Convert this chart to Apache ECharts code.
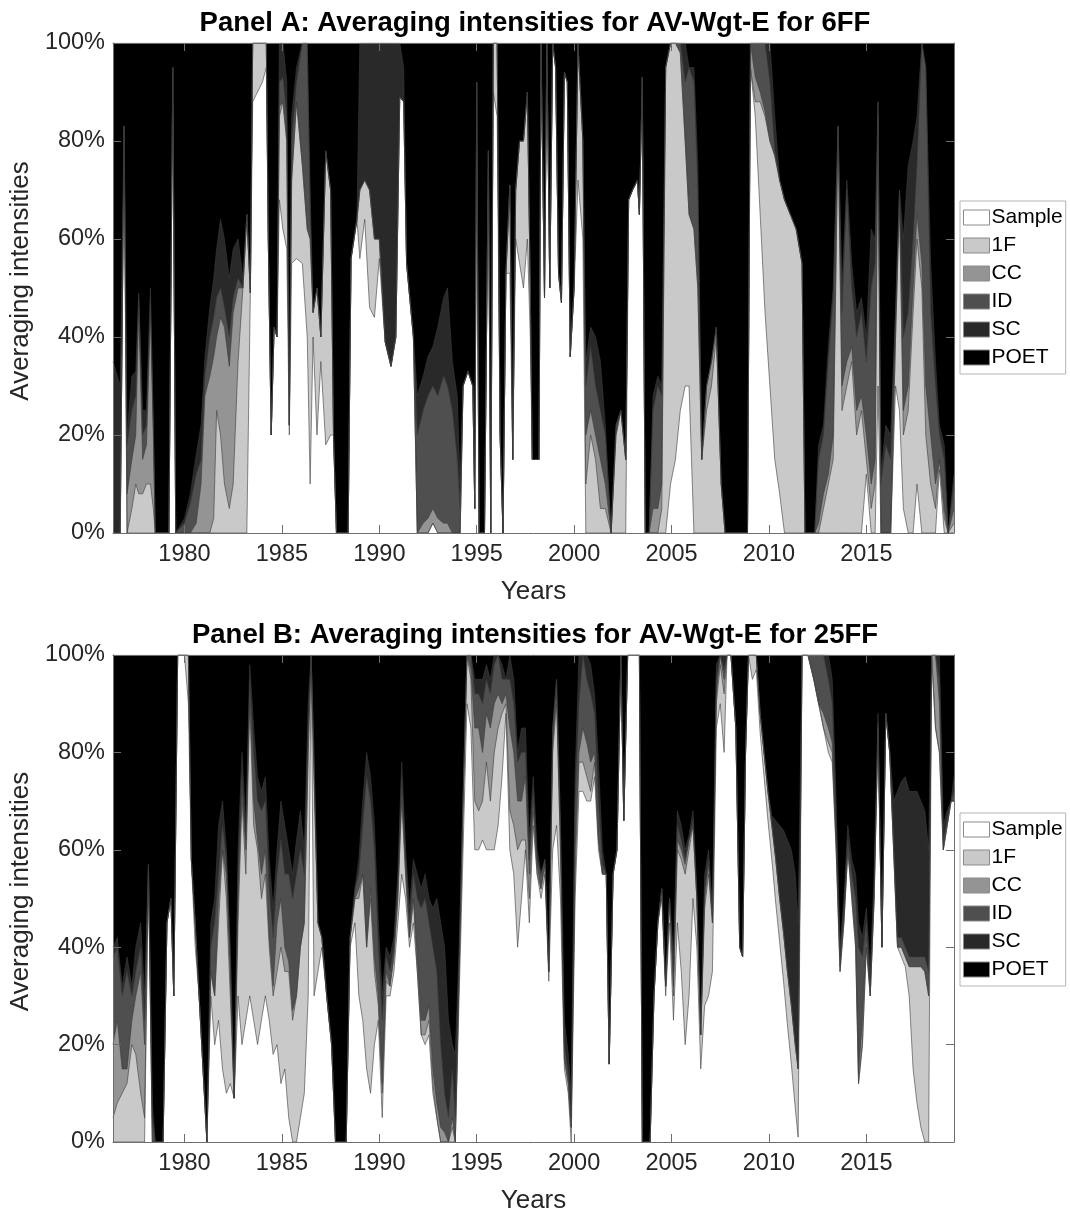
<!DOCTYPE html>
<html>
<head>
<meta charset="utf-8">
<script src="https://cdn.jsdelivr.net/npm/echarts@6/dist/echarts.min.js"></script>
<style>
  html, body { margin: 0; padding: 0; background: #ffffff; }
  #chart { width: 1070px; height: 1215px; }
</style>
</head>
<body>
<div id="chart"></div>
<script>
// Averaging intensities (shares in %) of the six estimators, stacked to 100%.
const seriesNames = ['Sample', '1F', 'CC', 'ID', 'SC', 'POET'];
const tickYears = [1980, 1985, 1990, 1995, 2000, 2005, 2010, 2015];
const yTickLabels = ['0%', '20%', '40%', '60%', '80%', '100%'];
const panelTitles = [
  'Panel A: Averaging intensities for AV-Wgt-E for 6FF',
  'Panel B: Averaging intensities for AV-Wgt-E for 25FF'
];

// ---- Panel A (6FF) ----
const yearsA = [
  1976.33,1976.7,1976.9,1977.05,1977.3,1977.5,1977.65,1977.85,1978.05,1978.25,
  1978.4,1978.5,1979.2,1979.4,1979.55,1980.0,1980.3,1980.6,1980.85,1981.05,
  1981.3,1981.5,1981.65,1981.85,1982.05,1982.3,1982.5,1982.75,1983.0,1983.2,
  1983.38,1983.5,1983.75,1984.0,1984.2,1984.3,1984.45,1984.6,1984.75,1984.87,
  1985.05,1985.25,1985.38,1985.5,1985.75,1986.05,1986.3,1986.45,1986.6,1986.8,
  1987.0,1987.25,1987.5,1987.65,1987.8,1988.4,1988.55,1988.85,1989.0,1989.25,
  1989.5,1989.75,1990.0,1990.3,1990.6,1990.85,1991.05,1991.25,1991.4,1991.75,
  1991.95,1992.25,1992.5,1992.75,1993.0,1993.3,1993.5,1993.75,1994.0,1994.15,
  1994.3,1994.55,1994.8,1994.9,1995.0,1995.12,1995.4,1995.6,1995.72,1995.85,
  1996.05,1996.2,1996.35,1996.5,1996.7,1996.85,1997.0,1997.2,1997.4,1997.6,
  1997.75,1997.85,1998.2,1998.3,1998.35,1998.48,1998.6,1998.75,1998.9,1999.05,
  1999.2,1999.35,1999.5,1999.65,1999.8,2000.0,2000.2,2000.45,2000.6,2000.85,
  2001.1,2001.35,2001.6,2001.9,2002.15,2002.4,2002.65,2002.8,2003.0,2003.25,
  2003.35,2003.5,2003.65,2003.85,2004.05,2004.3,2004.5,2004.7,2004.95,2005.2,
  2005.45,2005.7,2005.9,2006.15,2006.35,2006.55,2006.8,2007.05,2007.3,2007.55,
  2007.75,2008.9,2009.05,2009.3,2009.55,2009.8,2010.05,2010.3,2010.55,2010.8,
  2011.1,2011.4,2011.7,2011.85,2012.35,2012.55,2012.8,2013.05,2013.3,2013.55,
  2013.75,2014.0,2014.25,2014.5,2014.75,2015.0,2015.25,2015.45,2015.6,2015.75,
  2016.0,2016.25,2016.5,2016.7,2016.9,2017.15,2017.4,2017.6,2017.85,2018.05,
  2018.3,2018.55,2018.75,2019.0,2019.2,2019.5
];
const sampleA = [
  0,0,83,0,0,0,0,0,0,0,
  0,0,0,95,0,0,0,0,0,0,
  0,0,0,0,0,0,0,0,0,0,
  49,88,90,92,95,60,20,42,40,68,
  62,58,20,55,56,55,40,10,40,20,
  35,18,20,20,0,0,56,64,56,64,
  46,44,56,39,34,40,89,88,55,40,
  0,0,0,2,0,0,0,0,0,0,
  30,33,30,5,88,0,0,78,0,90,
  85,20,0,53,53,15,60,55,50,60,
  40,15,15,100,100,48,100,50,100,95,
  53,47,94,92,36,50,72,60,0,0,
  0,0,0,0,0,0,0,68,70,72,
  65,93,0,0,0,0,0,0,10,15,
  25,30,30,0,0,0,0,0,0,0,
  0,0,95,85,65,45,30,15,8,0,
  0,0,0,0,0,0,0,0,0,0,
  0,0,0,0,0,12,0,0,30,0,
  0,0,30,25,5,0,0,10,0,0,
  0,0,13,0,0,0
];
const oneFA = [
  0,0,0,0,5,10,8,8,10,10,
  5,0,0,0,0,0,0,0,0,0,
  0,3,25,20,10,5,10,35,50,65,
  0,12,10,8,5,0,0,0,0,17,
  26,22,2,17,32,20,22,50,5,30,
  5,60,50,0,0,0,0,0,14,8,
  24,16,4,0,0,0,0,0,0,0,
  0,0,0,0,0,0,0,0,0,0,
  0,0,0,0,4,0,0,0,0,10,
  15,0,0,0,18,0,10,25,30,30,
  10,0,0,0,0,0,0,0,0,0,
  0,0,0,0,0,0,28,20,10,20,
  15,5,5,0,20,25,15,0,0,0,
  0,0,0,0,0,0,5,95,90,85,
  73,50,35,62,50,15,25,30,40,10,
  0,0,0,3,23,40,50,62,64,68,
  65,62,55,0,0,0,5,10,15,83,
  25,30,35,20,25,3,5,10,55,0,
  0,0,10,43,15,25,45,50,50,20,
  10,5,2,3,0,2
];
const ccA = [
  0,0,0,8,10,10,38,7,8,35,
  15,0,0,0,0,0,0,2,10,28,
  32,33,15,24,32,29,35,15,0,0,
  0,0,0,0,0,0,0,0,0,2,
  0,0,0,0,0,0,0,0,0,0,
  0,0,0,0,0,0,0,0,0,0,
  0,0,0,0,0,0,0,0,0,0,
  0,2,3,3,3,2,2,0,0,0,
  0,0,0,0,0,0,0,0,0,0,
  0,0,0,0,0,0,0,0,0,0,
  0,0,0,0,0,0,0,0,0,0,
  0,0,0,0,0,0,0,0,10,5,
  5,10,5,0,0,0,0,0,0,0,
  0,0,0,0,5,5,5,0,0,0,
  0,0,0,0,0,0,5,5,2,0,
  0,0,5,5,2,1,0,0,0,0,
  0,0,0,0,0,2,3,2,5,0,
  5,5,3,5,3,5,5,5,0,0,
  0,0,0,0,5,5,5,5,5,10,
  10,5,0,2,0,3
];
const idA = [
  0,0,0,10,10,8,2,5,4,3,
  2,0,0,0,0,2,6,10,5,4,
  8,8,8,6,4,6,3,2,0,0,
  0,0,0,0,0,0,0,0,0,5,
  5,5,0,8,4,25,38,5,0,0,
  0,0,0,0,0,0,0,0,0,0,
  0,0,0,0,0,0,0,0,0,0,
  20,23,25,25,25,30,28,25,15,5,
  0,0,0,0,0,0,0,0,0,0,
  0,0,0,0,0,0,0,0,0,0,
  0,0,0,0,0,0,0,0,0,0,
  0,0,0,0,0,0,0,0,10,13,
  10,10,10,0,2,0,0,0,0,0,
  0,0,0,0,20,25,18,0,0,0,
  2,12,30,30,20,0,0,0,0,0,
  0,0,0,7,10,14,12,1,0,0,
  0,0,0,0,0,13,12,23,28,0,
  15,35,12,15,17,15,40,40,3,10,
  18,15,5,2,15,15,10,10,45,65,
  25,20,5,10,0,5
];
const scA = [
  35,30,0,2,7,5,1,5,3,2,
  0,0,0,0,0,1,2,4,7,4,
  6,8,10,14,14,12,10,8,2,0,
  0,0,0,0,0,0,0,0,0,8,
  7,7,0,5,3,0,0,5,0,0,
  0,0,0,0,0,0,0,0,30,28,
  30,40,40,61,66,60,11,7,0,0,
  8,7,8,8,14,16,20,10,13,5,
  0,0,0,0,0,0,0,0,0,0,
  0,0,0,0,0,0,0,0,0,0,
  0,0,0,0,0,0,0,0,0,0,
  0,0,0,0,0,0,0,0,5,4,
  10,10,2,0,0,0,0,0,0,0,
  0,0,0,0,3,2,2,0,0,0,
  0,8,0,3,5,0,0,0,0,0,
  0,0,0,0,0,0,8,7,0,0,
  0,0,0,0,0,3,2,3,2,0,
  5,2,5,5,3,5,12,5,0,2,
  4,5,0,0,20,30,20,10,0,0,
  10,5,2,3,0,2
];
const poetA = [
  65,70,17,80,68,67,51,75,75,50,
  78,100,100,5,100,97,92,84,78,64,
  54,48,42,36,40,48,42,40,48,35,
  51,0,0,0,0,40,80,58,60,0,
  0,8,78,15,5,0,0,30,55,50,
  60,22,30,80,100,100,44,36,0,0,
  0,0,0,0,0,0,0,5,45,60,
  72,68,64,62,58,52,50,65,72,90,
  70,67,70,95,8,100,100,22,100,0,
  0,80,100,47,29,85,30,20,20,10,
  50,85,85,0,0,52,0,50,0,5,
  47,53,6,8,64,50,0,20,65,58,
  60,65,78,100,78,75,85,32,30,28,
  35,7,100,100,72,68,70,5,0,0,
  0,0,5,5,25,85,70,65,58,90,
  100,100,0,0,0,0,0,15,28,32,
  35,38,45,100,100,82,78,62,50,17,
  50,28,45,55,52,60,38,40,12,88,
  78,80,55,30,40,25,20,15,0,5,
  45,65,78,82,100,88
];

// ---- Panel B (25FF) ----
const yearsB = [
  1976.33,1976.55,1976.8,1977.05,1977.3,1977.5,1977.75,1977.95,1978.15,1978.35,
  1978.5,1978.9,1979.1,1979.3,1979.45,1979.65,1980.0,1980.2,1980.35,1980.55,
  1980.75,1980.95,1981.15,1981.35,1981.55,1981.75,1981.95,1982.15,1982.35,1982.55,
  1982.75,1982.95,1983.15,1983.35,1983.55,1983.75,1983.95,1984.15,1984.35,1984.55,
  1984.75,1984.95,1985.15,1985.35,1985.55,1985.75,1985.95,1986.15,1986.35,1986.5,
  1986.65,1986.85,1987.05,1987.3,1987.55,1987.75,1988.3,1988.5,1988.75,1988.95,
  1989.15,1989.35,1989.55,1989.75,1989.95,1990.15,1990.35,1990.55,1990.75,1990.95,
  1991.15,1991.35,1991.55,1991.75,1991.95,1992.15,1992.35,1992.55,1992.75,1992.95,
  1993.15,1993.35,1993.55,1993.75,1993.9,1994.1,1994.3,1994.5,1994.7,1994.9,
  1995.1,1995.3,1995.5,1995.7,1995.9,1996.1,1996.3,1996.5,1996.7,1996.9,
  1997.1,1997.3,1997.5,1997.7,1997.9,1998.1,1998.3,1998.5,1998.7,1998.9,
  1999.1,1999.3,1999.5,1999.7,1999.85,2000.05,2000.25,2000.45,2000.65,2000.85,
  2001.05,2001.25,2001.45,2001.65,2001.8,2002.0,2002.2,2002.4,2002.55,2002.75,
  2003.0,2003.35,2003.5,2003.9,2004.1,2004.3,2004.5,2004.7,2004.9,2005.1,
  2005.3,2005.5,2005.7,2005.9,2006.1,2006.3,2006.5,2006.7,2006.9,2007.1,
  2007.3,2007.5,2007.7,2007.85,2008.05,2008.3,2008.5,2008.65,2008.8,2008.95,
  2009.15,2009.35,2009.55,2009.75,2009.95,2010.15,2010.35,2010.55,2010.75,2010.95,
  2011.15,2011.35,2011.5,2011.7,2012.0,2012.3,2012.55,2012.8,2013.05,2013.25,
  2013.45,2013.65,2013.85,2014.05,2014.25,2014.45,2014.6,2014.8,2015.0,2015.2,
  2015.4,2015.6,2015.8,2016.0,2016.2,2016.4,2016.6,2016.8,2017.0,2017.2,
  2017.4,2017.6,2017.8,2018.0,2018.2,2018.35,2018.55,2018.75,2018.95,2019.15,
  2019.35,2019.5
];
const sampleB = [
  0,0,0,0,0,0,0,0,55,0,
  0,0,45,50,30,100,100,90,58,40,
  30,15,0,30,20,25,15,10,12,9,
  30,20,25,30,25,20,25,30,25,18,
  20,12,15,5,0,0,5,10,30,100,
  30,35,40,30,20,0,0,40,45,30,
  25,15,10,20,25,5,30,30,35,45,
  55,50,40,45,35,22,20,22,10,5,
  0,0,0,0,0,30,60,90,85,60,
  60,62,60,60,60,65,75,88,60,55,
  40,50,60,45,65,55,50,55,33,60,
  65,50,15,10,0,50,72,72,70,70,
  75,60,55,55,16,55,60,100,66,100,
  100,100,0,0,30,45,50,30,45,25,
  45,35,20,30,50,40,15,28,30,35,
  85,90,80,100,100,85,40,38,80,100,
  95,97,84,75,66,58,49,41,33,24,
  16,7,1,100,100,95,90,85,80,78,
  60,35,45,60,50,40,12,20,40,30,
  50,85,40,88,80,60,40,38,36,30,
  15,8,3,0,0,100,85,80,60,65,
  70,70
];
const oneFB = [
  5,8,10,12,20,18,10,5,2,0,
  0,0,0,0,0,0,0,10,0,5,
  0,0,0,5,10,20,45,40,18,0,
  15,50,30,60,40,40,25,25,15,12,
  15,28,20,30,25,30,35,35,50,0,
  45,10,2,0,0,0,0,2,5,20,
  30,25,40,15,3,5,3,2,3,5,
  15,5,2,5,0,0,2,3,2,0,
  0,0,0,3,0,5,10,10,10,10,
  8,8,18,10,20,20,13,2,8,10,
  20,12,2,5,3,0,2,2,2,20,
  25,10,2,2,3,5,6,6,5,2,
  3,2,0,0,0,0,0,0,0,0,
  0,0,0,0,0,0,2,2,5,5,
  15,23,35,30,15,10,7,20,25,10,
  5,8,12,0,0,0,0,0,0,0,
  5,3,4,5,6,7,9,9,10,11,
  12,13,14,0,0,0,0,0,2,2,
  0,0,0,0,0,0,0,0,0,0,
  0,0,0,0,0,0,0,2,2,6,
  21,28,33,35,30,0,0,0,0,0,
  0,0
];
const ccB = [
  15,17,5,3,5,12,25,15,0,0,
  0,0,0,0,0,0,0,0,0,0,
  0,0,0,0,0,5,0,5,5,0,
  5,2,5,2,5,2,5,5,2,2,
  10,10,5,2,2,0,0,0,0,0,
  0,0,0,0,0,0,0,0,0,2,
  0,0,2,3,2,2,2,0,0,0,
  2,0,0,0,3,3,3,3,3,3,
  3,2,0,2,0,0,0,0,2,15,
  17,10,10,15,10,7,2,2,17,15,
  10,8,13,5,2,2,0,0,0,2,
  2,0,0,0,0,5,2,7,7,6,
  2,0,0,0,0,0,0,0,0,0,
  0,0,0,0,0,0,0,0,0,2,
  2,2,2,2,0,0,0,2,2,0,
  2,2,3,0,0,0,0,0,0,0,
  0,0,0,0,0,0,0,0,0,0,
  0,0,0,0,0,0,0,3,3,2,
  2,1,1,0,2,2,2,5,2,0,
  0,0,0,0,0,0,0,0,0,0,
  0,0,0,0,0,0,15,10,0,0,
  0,0
];
const idB = [
  18,15,15,20,5,5,5,5,0,5,
  0,0,0,0,0,0,0,0,0,0,
  0,0,0,5,15,5,5,3,3,0,
  5,3,2,3,10,8,13,10,10,10,
  10,12,15,18,23,25,20,10,5,0,
  3,0,0,0,0,0,0,0,2,3,
  10,35,18,22,10,13,3,3,2,2,
  3,3,3,5,12,23,25,17,25,27,
  17,8,5,10,5,3,0,0,3,7,
  7,10,7,7,8,8,5,3,10,10,
  8,10,5,3,2,1,3,1,0,3,
  3,5,3,2,2,10,10,15,13,14,
  8,8,2,0,0,0,0,0,0,0,
  0,0,0,0,0,0,0,0,0,3,
  3,2,1,0,1,0,0,2,1,1,
  3,0,2,0,0,0,0,0,0,0,
  0,0,0,0,0,0,0,0,0,0,
  0,0,0,0,0,5,10,12,10,8,
  3,2,2,2,3,8,26,13,3,2,
  2,1,0,0,0,2,2,2,2,2,
  2,2,2,3,5,0,0,5,2,1,
  0,2
];
const scB = [
  2,2,2,3,2,5,5,5,0,3,
  0,0,0,0,0,0,0,0,0,0,
  0,0,0,5,5,10,5,2,2,0,
  5,5,3,3,5,5,4,5,6,6,
  5,8,10,5,5,7,8,5,5,0,
  2,0,0,0,0,0,0,0,0,3,
  5,5,5,5,5,5,2,3,2,3,
  3,2,3,3,5,4,5,5,8,15,
  25,30,20,5,13,2,2,0,0,3,
  3,5,3,3,2,0,3,0,5,5,
  2,5,5,4,3,2,0,0,0,0,
  0,0,5,4,5,5,10,0,5,6,
  4,8,3,0,0,0,0,0,0,0,
  0,0,0,0,0,0,0,0,0,3,
  3,3,2,1,2,2,0,3,2,2,
  3,0,3,0,0,0,0,0,0,0,
  0,0,0,0,0,2,8,15,21,27,
  32,35,30,0,0,0,0,0,5,5,
  5,2,2,3,3,5,5,4,3,3,
  3,2,0,0,0,8,30,32,35,34,
  34,34,32,30,25,0,0,5,3,2,
  0,3
];
const poetB = [
  60,58,68,62,68,60,55,70,43,92,
  100,100,55,50,70,0,0,0,42,55,
  70,85,100,55,50,35,30,40,60,91,
  40,20,35,2,15,25,28,25,42,52,
  40,30,35,40,45,38,32,40,10,0,
  20,55,58,70,80,100,100,58,48,42,
  30,20,25,35,55,70,60,62,58,45,
  22,40,52,42,45,48,45,50,52,50,
  55,60,75,80,82,60,28,0,0,5,
  5,5,2,5,0,0,2,5,0,5,
  20,15,15,38,25,40,45,42,65,15,
  5,35,75,82,90,25,0,0,0,2,
  8,22,40,45,84,45,40,0,34,0,
  0,0,100,100,70,55,48,68,50,62,
  32,35,40,37,32,48,78,45,40,52,
  2,0,0,0,0,15,60,62,20,0,
  0,0,12,20,28,33,34,35,36,38,
  40,45,55,0,0,0,0,0,0,5,
  30,60,50,35,42,45,55,58,52,65,
  45,12,60,12,20,30,28,26,25,28,
  28,28,30,32,40,0,0,0,35,32,
  30,25
];

// ---- styling ----
const FONT = "'Liberation Sans', Arial, Helvetica, sans-serif";
const fills = ['#ffffff', '#c9c9c9', '#949494', '#4f4f4f', '#292929', '#000000'];
const edgeColor = '#3c3c3c';
const frameColor = '#6e6e6e';
const textColor = '#262626';
const X_MIN = 1976.33, X_MAX = 2019.5;

const gridsLayout = [
  { left: 111, right: 116, top: 43, height: 490 },
  { left: 111, right: 116, top: 655, height: 490 }
];

function makeXAxes(gridIndex) {
  const common = {
    type: 'value', gridIndex: gridIndex, min: X_MIN, max: X_MAX, z: 5,
    splitLine: { show: false },
    axisLine: { show: true, onZero: false, lineStyle: { color: frameColor, width: 1 } },
    axisTick: { show: true, inside: true, length: 8, customValues: tickYears,
                lineStyle: { color: frameColor, width: 1 } }
  };
  return [
    Object.assign({}, common, {
      position: 'bottom',
      name: 'Years', nameLocation: 'middle', nameGap: 46,
      nameTextStyle: { fontFamily: FONT, fontSize: 26, color: textColor },
      axisLabel: { show: true, customValues: tickYears, margin: 10,
                   formatter: v => String(v),
                   fontFamily: FONT, fontSize: 23.5, color: textColor }
    }),
    Object.assign({}, common, { position: 'top', axisLabel: { show: false } })
  ];
}

function makeYAxes(gridIndex) {
  const common = {
    type: 'value', gridIndex: gridIndex, min: 0, max: 100, interval: 20, z: 5,
    splitLine: { show: false },
    axisLine: { show: true, onZero: false, lineStyle: { color: frameColor, width: 1 } },
    axisTick: { show: true, inside: true, length: 8, lineStyle: { color: frameColor, width: 1 } }
  };
  return [
    Object.assign({}, common, {
      position: 'left',
      name: 'Averaging intensities', nameLocation: 'middle', nameGap: 71,
      nameTextStyle: { fontFamily: FONT, fontSize: 26, color: textColor, padding: [0, 0, 0, 14] },
      axisLabel: { show: true, margin: 8,
                   formatter: v => yTickLabels[Math.round(v / 20)],
                   fontFamily: FONT, fontSize: 23.5, color: textColor }
    }),
    Object.assign({}, common, { position: 'right', axisLabel: { show: false } })
  ];
}

// Stacked areas: each band is filled from zero up to its running total,
// painted from the top band (POET) down so lower bands sit in front.
function makeSeries(years, columns, axisIndex) {
  const running = years.map(() => 0);
  const tops = columns.map(vals => vals.map((v, i) => (running[i] += v)));
  const out = [];
  for (let k = columns.length - 1; k >= 0; k--) {
    out.push({
      name: seriesNames[k],
      type: 'line',
      xAxisIndex: axisIndex,
      yAxisIndex: axisIndex,
      symbol: 'none',
      showSymbol: false,
      silent: true,
      emphasis: { disabled: true },
      lineStyle: { width: 0.6, color: edgeColor },
      itemStyle: { color: fills[k] },
      areaStyle: { color: fills[k], opacity: 1, origin: 'start' },
      data: years.map((y, i) => [y, tops[k][i]])
    });
  }
  return out;
}

function makeLegend(top) {
  return {
    data: seriesNames,
    orient: 'vertical',
    left: 960, top: top,
    icon: 'rect',
    itemWidth: 26, itemHeight: 15, itemGap: 7,
    padding: [6, 3, 6, 3],
    borderColor: '#b4b4b4', borderWidth: 1,
    backgroundColor: '#ffffff',
    selectedMode: false,
    itemStyle: { borderColor: '#8a8a8a', borderWidth: 1 },
    textStyle: { fontFamily: FONT, fontSize: 21, color: '#000000', padding: [0, 0, 0, -3] }
  };
}

const chart = echarts.init(document.getElementById('chart'), null, { renderer: 'canvas' });
chart.setOption({
  animation: false,
  backgroundColor: '#ffffff',
  title: [
    { text: panelTitles[0], left: 'center', top: 4,
      textStyle: { fontFamily: FONT, fontSize: 27.5, fontWeight: 'bold', color: '#000000' } },
    { text: panelTitles[1], left: 'center', top: 616,
      textStyle: { fontFamily: FONT, fontSize: 27.5, fontWeight: 'bold', color: '#000000' } }
  ],
  legend: [makeLegend(201), makeLegend(813)],
  grid: gridsLayout,
  xAxis: makeXAxes(0).concat(makeXAxes(1)),
  yAxis: makeYAxes(0).concat(makeYAxes(1)),
  series: makeSeries(yearsA, [sampleA, oneFA, ccA, idA, scA, poetA], 0)
    .concat(makeSeries(yearsB, [sampleB, oneFB, ccB, idB, scB, poetB], 2))
});
</script>
</body>
</html>
